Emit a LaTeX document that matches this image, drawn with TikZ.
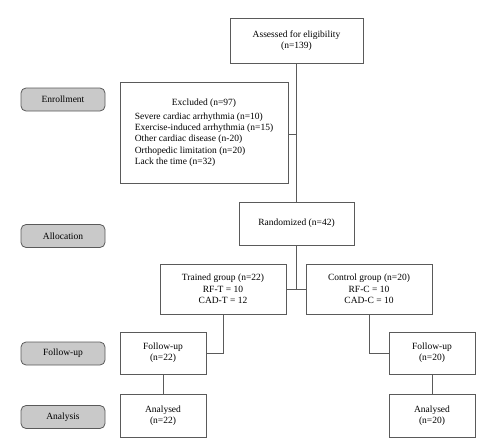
\documentclass[tikz,border=0pt]{standalone}
\usepackage{fontspec}
\setmainfont{Liberation Serif}
\usetikzlibrary{calc}
\definecolor{edge}{HTML}{5A5A5A}
\definecolor{pillfill}{HTML}{C9C9C9}
\tikzset{
  box/.style={draw=edge, line width=0.8pt, fill=white, inner sep=0pt, align=center, font=\fontsize{9.5}{11.3}\selectfont},
  pill/.style={draw=edge, line width=0.8pt, fill=pillfill, rounded corners=5pt, inner sep=0pt, minimum width=84pt, minimum height=23pt, font=\fontsize{9.5}{11.3}\selectfont},
  link/.style={draw=edge, line width=0.8pt},
}
\begin{document}
\begin{tikzpicture}[x=1pt,y=-1pt]
\useasboundingbox (0,0) rectangle (477,447);
% phase labels
\node[pill] (enr) at (63,99.5) {Enrollment};
\node[pill] (alloc) at (63,236) {Allocation};
\node[pill] (fup) at (63,353.5) {Follow-up};
\node[pill] (ana) at (63,417) {Analysis};
% boxes
\node[box, minimum width=133pt, minimum height=45pt] (assess) at (296.5,40.5) {Assessed for eligibility\\(n=139)};
\node[box, minimum width=168pt, minimum height=101pt] (excl) at (204,132.5) {\begin{tabular}{@{}l@{}}\multicolumn{1}{c}{Excluded (n=97)}\\[3pt]
Severe cardiac arrhythmia (n=10)\\
Exercise-induced arrhythmia (n=15)\\
Other cardiac disease (n-20)\\
Orthopedic limitation (n=20)\\
Lack the time (n=32)\end{tabular}};
\node[box, minimum width=115pt, minimum height=43pt] (rand) at (296.5,223.5) {Randomized (n=42)};
\node[box, minimum width=126pt, minimum height=50pt] (trained) at (223,289) {Trained group (n=22)\\RF-T = 10\\CAD-T = 12};
\node[box, minimum width=126pt, minimum height=50pt] (control) at (369,289) {Control group (n=20)\\RF-C = 10\\CAD-C = 10};
\node[box, minimum width=86pt, minimum height=42pt] (fu1) at (163,353) {Follow-up\\(n=22)};
\node[box, minimum width=86pt, minimum height=42pt] (fu2) at (432,353) {Follow-up\\(n=20)};
\node[box, minimum width=86pt, minimum height=43pt] (an1) at (163,415.5) {Analysed\\(n=22)};
\node[box, minimum width=86pt, minimum height=43pt] (an2) at (432,415.5) {Analysed\\(n=20)};
% connectors
\draw[link] (assess.south) -- (rand.north);
\draw[link] ($(excl.east)+(0,1.5)$) -- ($(excl.east -| assess.south)+(0,1.5)$);
\draw[link] (trained.east) -- (control.west);
\draw[link] (rand.south) -- (rand.south |- trained.east);
\draw[link] (trained.south) |- (fu1.east);
\draw[link] (control.south) |- (fu2.west);
\draw[link] (fu1.south) -- (an1.north);
\draw[link] (fu2.south) -- (an2.north);
\end{tikzpicture}
\end{document}
